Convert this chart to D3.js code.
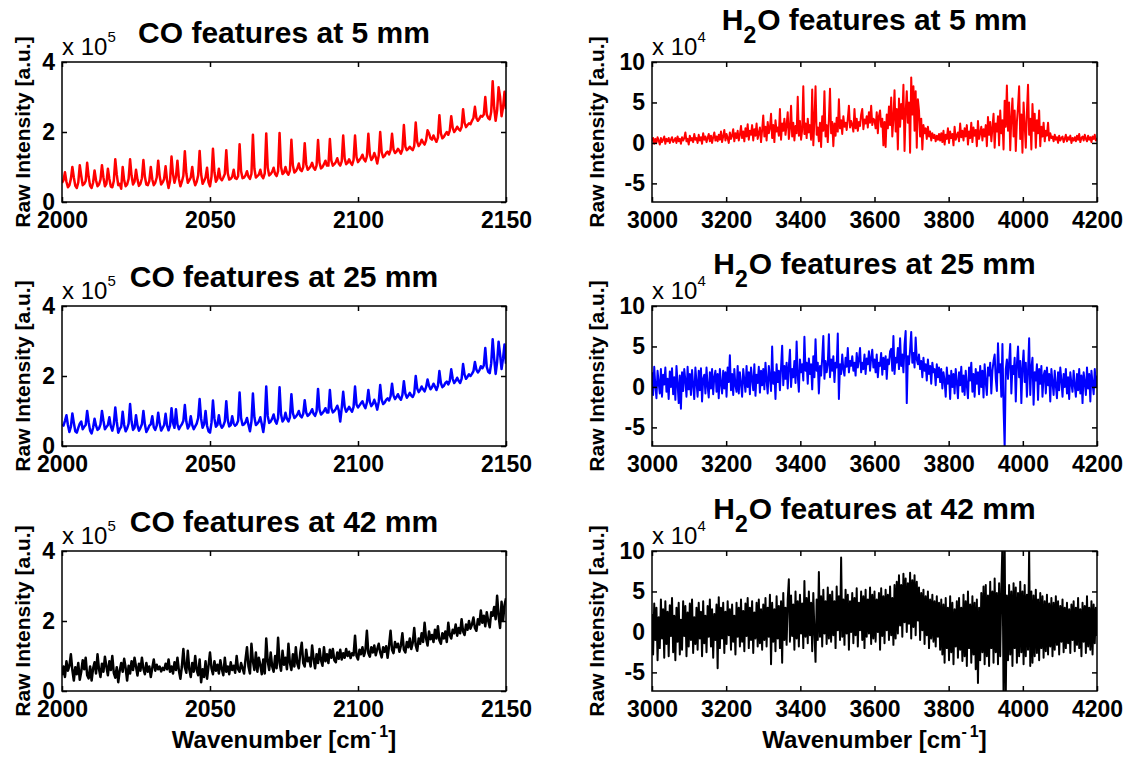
<!DOCTYPE html>
<html lang="en">
<head>
<meta charset="utf-8">
<title>CO and H2O features</title>
<script src="https://cdn.jsdelivr.net/npm/d3@7/dist/d3.min.js"></script>
<style>
  body { margin: 0; background: #fff; }
  svg text { font-family: "Liberation Sans", Arial, Helvetica, sans-serif; fill: #000; }
  .tick text { font-size: 23px; font-weight: bold; }
  .title { font-size: 30px; font-weight: bold; }
  .ylab { font-size: 21px; font-weight: bold; }
  .xlab { font-size: 24px; font-weight: bold; }
  .expo { font-size: 24px; }
</style>
</head>
<body>
<script>
// spectra are in units of 1e3 counts (raw intensity)
// CO window: 2000..2150 cm-1, one value every 0.5 cm-1
const coStart = 2000, coStep = 0.5;
// H2O window: 3000..4200 cm-1, one value every 3 cm-1
const h2oStart = 3000, h2oStep = 3;

const co5 = [
  55,62,85,58,42,48,66,100,70,46,40,56,105,75,48,52,60,112,72,46,
  40,55,90,62,45,50,64,105,70,45,52,95,66,44,42,60,122,78,48,52,
  38,100,62,45,50,66,122,75,50,58,92,64,46,52,68,120,72,50,48,60,
  100,65,48,55,70,118,74,50,56,66,102,62,40,60,130,80,55,72,118,66,
  45,58,75,145,82,55,62,70,100,64,48,58,76,146,80,52,60,70,98,56,
  45,72,152,85,58,66,95,68,62,70,80,148,82,64,66,72,92,68,66,74,
  165,88,68,70,76,88,72,66,80,192,95,70,74,78,92,74,68,82,196,98,
  76,80,86,98,80,74,88,197,100,80,84,100,84,78,90,178,104,84,88,96,
  110,92,88,100,168,108,92,96,102,112,98,92,104,177,112,96,100,108,118,104,
  104,180,118,104,108,114,125,110,104,116,190,124,108,112,122,112,106,120,190,128,
  114,120,126,135,122,116,130,195,136,120,126,140,128,110,132,200,142,128,132,140,
  144,136,148,195,150,140,144,152,146,138,150,220,158,148,152,158,152,148,160,227,
  172,160,166,178,170,164,176,205,196,182,178,190,180,172,184,248,196,182,186,194,
  200,192,204,245,212,200,206,215,208,204,214,265,226,214,220,225,222,232,240,272,
  240,232,238,246,244,250,300,250,240,236,258,345,270,232,262,328,300,245,270,315,
  265
];

const co25 = [
  62,58,72,88,60,40,55,93,66,42,38,52,64,70,48,55,60,100,68,44,
  36,52,78,58,46,50,62,100,72,48,54,60,82,56,44,62,110,70,38,48,
  55,98,60,42,50,64,120,70,46,52,88,58,44,52,62,100,62,40,48,58,
  62,85,54,46,58,95,64,44,52,60,92,58,45,58,108,66,52,105,62,48,
  56,62,72,117,70,50,58,85,60,48,56,64,80,134,78,52,62,100,58,42,
  38,66,130,78,55,60,88,62,52,58,70,128,74,56,60,85,64,58,62,72,
  153,80,60,62,68,80,60,42,70,150,82,60,64,70,82,62,40,72,170,86,
  66,70,78,90,72,64,80,168,90,70,76,95,78,70,82,148,94,80,84,90,
  100,86,82,92,131,96,86,90,96,105,92,86,98,163,104,90,94,100,108,96,
  96,160,108,96,100,106,115,102,70,108,155,112,98,104,112,104,98,112,170,118,
  110,116,122,128,116,108,124,160,126,114,120,132,120,104,126,174,132,120,124,132,
  136,130,142,178,144,134,140,148,138,132,146,185,150,138,144,152,144,140,150,200,
  164,154,160,170,162,156,168,190,172,162,168,178,170,160,172,214,180,168,172,180,
  184,176,186,219,192,180,186,195,186,180,192,234,204,192,198,205,200,206,214,240,
  218,210,216,228,222,230,280,226,212,208,236,305,250,206,240,298,262,220,250,290,
  235
];

const co42 = [
  45,70,40,85,58,72,105,60,30,68,48,80,32,55,88,62,95,45,36,70,
  30,64,82,50,105,62,40,78,55,98,70,45,85,60,100,52,38,68,25,58,
  80,55,92,66,30,72,50,85,60,95,70,44,78,58,95,64,48,80,55,70,
  40,66,90,58,75,62,70,56,66,60,78,62,90,55,70,50,82,60,95,58,
  35,70,120,68,52,115,62,40,80,55,100,60,45,90,25,62,40,85,35,72,
  110,65,48,85,58,75,50,88,62,45,95,55,70,48,82,60,72,52,100,62,
  55,80,65,50,90,125,70,50,135,85,60,110,55,95,75,48,90,50,150,85,
  60,110,70,55,100,65,152,80,58,115,75,95,62,135,80,60,105,70,125,78,
  65,110,138,80,70,118,85,95,70,130,92,65,105,80,120,88,72,125,85,105,
  80,118,95,120,88,82,110,92,118,90,108,95,120,100,112,94,108,102,158,100,
  90,118,105,125,100,115,172,108,98,125,110,130,102,120,135,110,96,125,112,128,
  95,130,172,118,108,140,125,135,112,130,165,118,110,140,125,150,120,138,180,130,
  115,150,135,165,140,195,150,130,170,148,160,140,175,150,185,145,135,165,150,170,
  140,195,160,150,175,165,190,158,180,165,205,170,160,190,175,200,178,190,210,180,
  172,205,190,230,195,215,185,225,200,182,225,215,240,205,272,215,180,255,200,245,
  265
];

const h2o5 = [
  2,6,-1,5,0,7,3,-2,6,1,4,8,-1,5,2,6,0,4,7,1,
  3,6,0,8,2,5,-1,7,3,6,13,2,5,-2,9,3,6,1,11,4,
  6,0,10,3,7,-1,12,4,8,1,6,11,2,9,0,7,13,3,8,2,
  10,4,14,1,8,16,3,11,6,0,13,5,9,17,2,12,6,15,3,10,
  21,6,14,2,18,8,23,4,15,10,22,3,17,9,24,5,12,19,1,16,
  34,8,20,3,26,12,18,36,6,22,1,28,14,19,9,42,4,24,15,30,
  10,22,38,5,18,46,8,25,3,21,12,57,9,27,4,16,70,11,24,6,
  30,13,22,4,66,-3,28,70,10,19,2,25,-5,33,15,64,8,22,1,29,
  67,12,26,-4,24,9,31,14,54,18,28,11,33,20,25,16,30,46,19,27,
  22,14,42,18,30,15,26,21,35,42,17,29,24,33,19,38,25,46,22,30,
  28,18,38,12,33,40,20,30,-3,26,-5,35,18,45,22,56,8,30,65,14,
  42,-8,55,20,48,30,72,-10,38,64,25,50,-12,81,35,70,15,64,-6,54,
  40,8,30,-8,22,12,18,5,20,8,14,3,12,6,10,2,9,4,11,3,
  12,1,15,-2,10,5,18,0,14,6,11,-3,20,4,9,13,2,24,7,15,
  3,18,8,22,-2,14,6,25,1,19,9,16,-4,27,5,12,20,3,17,8,
  22,-4,32,10,26,2,18,36,-6,24,14,33,-3,40,12,28,-8,52,20,71,
  15,50,-9,30,55,8,40,-10,26,45,70,5,35,-12,50,22,-6,38,72,10,
  30,-8,48,15,36,-6,28,12,40,-4,20,8,25,2,15,9,25,3,12,6,
  8,2,10,4,7,0,9,3,6,8,1,5,10,2,7,4,9,0,6,3,
  7,2,9,4,11,1,6,8,3,10,5,2,9,4,7,1,8,5,10,3,
  6
];

const h2o25 = [
  18,-10,25,2,-14,20,5,-8,22,-12,15,3,24,-6,10,-15,19,0,23,-9,
  12,-16,26,4,-20,14,-27,18,-5,22,8,-12,25,-3,16,-10,21,2,-15,24,
  6,-12,20,-4,23,-18,10,15,-8,24,1,-13,18,-2,22,-9,12,20,-6,16,
  -14,22,4,-8,20,-2,18,-12,24,6,39,-4,16,-10,22,2,-6,26,-8,18,
  4,-12,22,8,-6,26,0,18,-9,24,10,-4,28,-11,15,5,25,-7,20,2,
  22,-3,30,8,-8,26,12,-5,50,4,18,-15,28,6,20,-4,24,51,2,26,
  10,30,-2,25,46,0,22,12,32,5,56,14,-6,34,18,28,8,62,20,30,
  4,35,16,28,-3,38,12,59,20,30,-8,26,14,36,63,10,32,18,28,65,
  12,34,20,38,6,30,24,66,-15,28,16,40,22,14,36,25,48,18,32,26,
  38,20,30,14,42,24,34,48,18,30,22,40,16,35,28,44,20,36,46,24,
  34,18,40,12,30,26,42,15,36,22,38,10,34,28,44,47,20,63,16,36,
  30,48,22,60,26,40,18,52,69,-20,38,28,46,68,30,42,24,61,34,28,
  40,22,32,12,36,20,28,8,34,16,26,4,30,18,22,2,28,12,24,6,
  22,-2,18,8,-12,24,4,14,-15,20,0,16,-8,22,6,-14,18,2,25,-6,
  14,-10,20,2,-14,24,8,30,-6,16,-12,22,4,18,-9,26,0,20,-13,28,
  6,-10,24,14,30,-8,20,32,40,10,-5,54,18,28,-12,53,-25,-75,22,34,
  10,30,53,-8,26,16,36,-18,28,50,12,32,-20,24,45,6,30,-12,20,60,
  -10,24,36,-22,18,8,28,-16,22,4,26,-12,14,20,-8,24,2,16,-18,22,
  6,-10,20,2,-14,18,-4,24,8,-12,16,0,22,-8,12,-15,18,4,-6,20,
  2,-12,16,-4,22,-8,14,-20,18,6,-10,24,-2,16,-18,20,4,-9,22,0,
  14
];

const h2o42 = [
  22,-28,35,-10,30,-35,18,-20,40,-8,28,-32,38,-15,25,-30,33,-5,42,-25,
  20,-35,30,-12,36,-28,15,-22,38,-5,32,-30,24,-18,35,-10,40,-26,18,-15,
  30,-22,36,-8,25,-30,38,-14,20,-25,32,-6,40,-18,28,-32,22,-10,34,-45,
  43,-20,30,-8,36,-26,25,-15,38,-4,28,-22,34,-12,20,-28,36,-6,30,-18,
  40,-12,26,-24,35,-5,42,-20,30,-10,38,-26,24,-8,36,-18,40,-14,28,-22,
  34,-10,42,-18,30,-6,46,-40,36,-12,28,-24,44,-8,32,-20,38,-38,48,-10,
  30,-16,40,65,-12,45,-5,34,-22,50,-8,38,-18,46,-2,35,-20,63,-6,42,
  -14,50,-4,36,-24,48,0,-37,40,-10,74,-6,44,-18,52,-2,38,-15,55,-8,
  46,-12,50,-4,38,-20,56,2,44,-10,92,-6,40,-16,52,-2,46,-22,38,0,
  48,-14,42,-4,54,-18,36,2,50,-10,44,-20,52,-6,40,-2,55,-15,46,-8,
  50,-12,40,0,48,-22,54,-5,44,-14,52,2,46,-10,56,-4,42,-16,58,-8,
  62,-2,70,8,58,-6,72,12,66,0,60,10,73,-8,64,6,70,-4,62,14,
  55,-10,48,2,52,-15,44,-4,50,-20,40,-8,46,-12,38,-18,44,-6,36,-22,
  40,-28,34,-38,42,-20,30,-35,44,-25,36,-40,28,-18,38,-32,42,-22,30,-36,
  46,-30,38,-42,50,-20,34,-38,44,-28,36,-46,40,-63,30,-35,48,-25,56,-40,
  58,-30,45,-42,62,-20,50,-38,66,-25,48,-40,60,-30,52,110,-80,110,-80,45,
  -35,58,-28,50,-42,60,-20,55,-38,48,-30,62,-25,50,-40,58,-30,46,-22,102,
  -42,50,-38,45,-30,52,-26,40,-35,48,-20,44,-32,38,-24,46,-28,35,-18,42,
  -30,36,-22,44,-16,38,-28,32,-12,40,-25,30,-20,36,-14,28,-26,34,-10,38,
  -24,30,-16,42,-20,28,-30,36,-12,32,-26,44,-18,30,-22,38,-28,34,-14,30,
  -5
];

// axis ranges and ticks
const coXRange = [2000, 2150], coXTicks = [2000, 2050, 2100, 2150];
const coYRange = [0, 400], coYTicks = [0, 200, 400];          // shown as x 10^5
const h2oXRange = [3000, 4200], h2oXTicks = [3000, 3200, 3400, 3600, 3800, 4000, 4200];
const h2oYRange = [-73, 100], h2oYTicks = [-50, 0, 50, 100];  // shown as x 10^4

const distances = ["5 mm", "25 mm", "42 mm"];
const colors = ["#ff0000", "#0000ff", "#000000"];
const coData = [co5, co25, co42];
const h2oData = [h2o5, h2o25, h2o42];

// layout
const colLeft = [62, 652], colWidth = [444, 445];
const rowTop = [62, 306, 551], plotH = 140;

const svg = d3.select("body").append("svg")
  .attr("width", 1132)
  .attr("height", 757);

function drawPanel(row, col) {
  const isCO = col === 0;
  const data = isCO ? coData[row] : h2oData[row];
  const x0 = isCO ? coStart : h2oStart;
  const step = isCO ? coStep : h2oStep;
  const w = colWidth[col], h = plotH;
  const id = "clip" + row + col;

  const x = d3.scaleLinear().domain(isCO ? coXRange : h2oXRange).range([0, w]);
  const y = d3.scaleLinear().domain(isCO ? coYRange : h2oYRange).range([h, 0]);

  const g = svg.append("g")
    .attr("transform", `translate(${colLeft[col]},${rowTop[row]})`);

  g.append("clipPath").attr("id", id)
    .append("rect").attr("width", w).attr("height", h);

  const line = d3.line()
    .x((d, i) => x(x0 + i * step))
    .y(d => y(d));

  g.append("path")
    .datum(data)
    .attr("clip-path", `url(#${id})`)
    .attr("fill", "none")
    .attr("stroke", colors[row])
    .attr("stroke-width", isCO ? 2.5 : 2)
    .attr("stroke-linejoin", "round")
    .attr("d", line);

  const xTicks = isCO ? coXTicks : h2oXTicks;
  const yTicks = isCO ? coYTicks : h2oYTicks;
  const yFmt = isCO ? (d => d / 100) : (d => d / 10);

  // ticks point inward on all four sides (matlab box style)
  g.append("g").attr("class", "axis")
    .attr("transform", `translate(0,${h})`)
    .call(d3.axisBottom(x).tickValues(xTicks).tickSize(-5).tickPadding(10).tickFormat(d3.format("d")));
  g.append("g").attr("class", "axis")
    .call(d3.axisTop(x).tickValues(xTicks).tickSize(-5).tickFormat(""));
  g.append("g").attr("class", "axis")
    .call(d3.axisLeft(y).tickValues(yTicks).tickSize(-5).tickPadding(7).tickFormat(yFmt));
  g.append("g").attr("class", "axis")
    .attr("transform", `translate(${w},0)`)
    .call(d3.axisRight(y).tickValues(yTicks).tickSize(-5).tickFormat(""));
  g.selectAll(".axis .domain").remove();
  g.selectAll(".axis line").attr("stroke-width", 1.5);

  g.append("rect")
    .attr("width", w).attr("height", h)
    .attr("fill", "none")
    .attr("stroke", "#000")
    .attr("stroke-width", 1.5);

  // exponent label
  const expo = g.append("text").attr("class", "expo").attr("x", 0).attr("y", -7);
  expo.append("tspan").text("x 10");
  expo.append("tspan").attr("dy", -13).attr("font-size", 15).text(isCO ? "5" : "4");

  // title
  if (isCO) {
    g.append("text").attr("class", "title")
      .attr("x", w / 2).attr("y", -19)
      .attr("text-anchor", "middle")
      .text(`CO features at ${distances[row]}`);
  } else {
    const t = g.append("text").attr("class", "title")
      .attr("x", w / 2).attr("y", -32)
      .attr("text-anchor", "middle");
    t.append("tspan").text("H");
    t.append("tspan").attr("dy", 13).attr("font-size", 23).text("2");
    t.append("tspan").attr("dy", -13).attr("dx", 1).text(`O features at ${distances[row]}`);
  }

  // y label
  g.append("text").attr("class", "ylab")
    .attr("transform", `translate(${isCO ? -32 : -48},${h / 2}) rotate(-90)`)
    .attr("text-anchor", "middle")
    .text("Raw Intensity [a.u.]");

  // x label on the bottom row only
  if (row === 2) {
    const xl = g.append("text").attr("class", "xlab")
      .attr("x", w / 2).attr("y", h + 57)
      .attr("text-anchor", "middle");
    xl.append("tspan").text("Wavenumber [cm");
    xl.append("tspan").attr("dy", -11).attr("font-size", 16).text("-");
    xl.append("tspan").attr("dx", 3).attr("font-size", 16).text("1");
    xl.append("tspan").attr("dy", 11).text("]");
  }
}

for (let r = 0; r < 3; r++) {
  drawPanel(r, 0);
  drawPanel(r, 1);
}
</script>
</body>
</html>
